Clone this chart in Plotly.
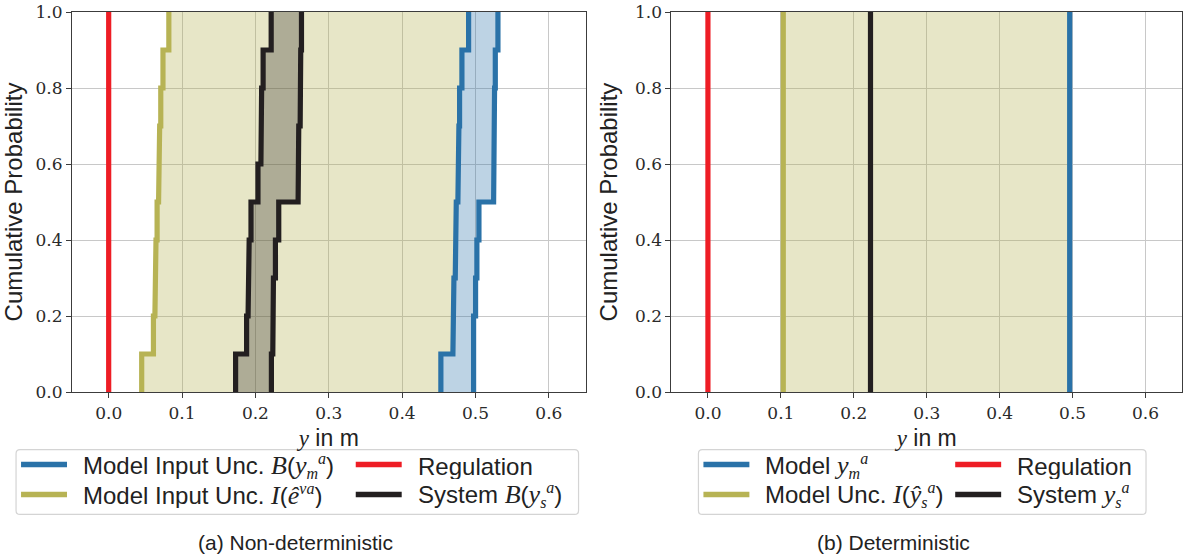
import numpy as np
import plotly.graph_objects as go

# ---------------- data ----------------
levels = [0.0, 0.1, 0.2, 0.3, 0.4, 0.5, 0.6, 0.7, 0.8, 0.9, 1.0]

# (a) non-deterministic: step CDF bounds (value on each probability interval)
olive_lo = [0.045, 0.061, 0.063, 0.0645, 0.066, 0.068, 0.0695, 0.071, 0.074, 0.082]
black_lo = [0.173, 0.188, 0.190, 0.1915, 0.194, 0.2035, 0.2075, 0.2085, 0.2105, 0.2215]
black_hi = [0.2218, 0.2237, 0.2246, 0.2273, 0.2318, 0.2582, 0.2591, 0.261, 0.2618, 0.2628]
blue_lo = [0.4528, 0.4692, 0.4706, 0.4724, 0.4738, 0.476, 0.4774, 0.4783, 0.4815, 0.4906]
blue_hi = [0.4974, 0.4974, 0.5001, 0.5019, 0.5047, 0.5247, 0.5256, 0.526, 0.527, 0.5306]
regulation = 0.0

# (b) deterministic
det_model = 0.496
det_unc_lo = 0.1033
det_system = 0.2229

x_ticks = [0.0, 0.1, 0.2, 0.3, 0.4, 0.5, 0.6]
y_ticks = [0.0, 0.2, 0.4, 0.6, 0.8, 1.0]

# ---------------- styles ----------------
C_BLUE = "#2a72a8"
C_OLIVE = "#b7b354"
C_RED = "#ee1d25"
C_BLACK = "#231f20"
F_OLIVE = "rgba(181,177,82,0.32)"
F_BLACK = "rgba(35,31,32,0.29)"
F_BLUE = "rgba(42,114,168,0.31)"
LW = 5.2
SANS = "Liberation Sans, Arial, sans-serif"
SERIF = "DejaVu Serif, serif"
MATH = "Liberation Serif, serif"
TXT = "#222222"


def m(s, size=None):
    sz = f";font-size:{size}px" if size else ""
    return f"<span style='font-family:{MATH};font-style:italic{sz}'>{s}</span>"


def step(vals):
    xs = list(np.repeat(vals, 2))
    ys = list(np.repeat(levels, 2)[1:-1])
    return xs, ys


def band(lo, hi):
    xl, yl = step(lo)
    xh, yh = step(hi)
    return xl + xh[::-1], yl + yh[::-1]


fig = go.Figure()

# ---- fills (a)
for lo, hi, fc in [(olive_lo, blue_lo, F_OLIVE), (black_lo, black_hi, F_BLACK), (blue_lo, blue_hi, F_BLUE)]:
    bx, by = band(lo, hi)
    fig.add_trace(go.Scatter(x=bx, y=by, fill="toself", fillcolor=fc, mode="lines",
                             line=dict(width=0), showlegend=False, hoverinfo="skip",
                             xaxis="x", yaxis="y"))

# ---- lines (a)
def add_step(vals, color):
    xs, ys = step(vals)
    fig.add_trace(go.Scatter(x=xs, y=ys, mode="lines", line=dict(color=color, width=LW),
                             showlegend=False, xaxis="x", yaxis="y"))

add_step(blue_lo, C_BLUE)
add_step(blue_hi, C_BLUE)
add_step(olive_lo, C_OLIVE)
fig.add_trace(go.Scatter(x=[regulation, regulation], y=[levels[0], levels[-1]], mode="lines",
                         line=dict(color=C_RED, width=LW), showlegend=False, xaxis="x", yaxis="y"))
add_step(black_lo, C_BLACK)
add_step(black_hi, C_BLACK)

# ---- (b)
fig.add_trace(go.Scatter(x=[det_unc_lo, det_model, det_model, det_unc_lo],
                         y=[levels[0], levels[0], levels[-1], levels[-1]],
                         fill="toself", fillcolor=F_OLIVE, mode="lines", line=dict(width=0),
                         showlegend=False, hoverinfo="skip", xaxis="x2", yaxis="y2"))

for xv, col in [(det_model, C_BLUE), (det_unc_lo, C_OLIVE), (regulation, C_RED), (det_system, C_BLACK)]:
    fig.add_trace(go.Scatter(x=[xv, xv], y=[levels[0], levels[-1]], mode="lines",
                             line=dict(color=col, width=LW), showlegend=False,
                             xaxis="x2", yaxis="y2"))

# ---------------- layout ----------------
W, H = 1185, 560
ML, MR, MT, MB = 72, 2, 10, 168
PW = W - ML - MR
PH = H - MT - MB


def px_x(p):
    return (p - ML) / PW


def px_y(p):
    return (H - MB - p) / PH


axis_common = dict(
    showline=True, linecolor="#3c3c3c", linewidth=1.2, mirror=True,
    ticks="outside", ticklen=5, tickcolor="#3c3c3c", tickwidth=1,
    showgrid=True, gridcolor="#c8c8c8", gridwidth=1.2, zeroline=False,
    tickfont=dict(family=SERIF, size=17, color="#2a2a2a"),
    ticklabeloverflow="allow",
)

xt = "<span style='font-family:" + MATH + ";font-style:italic'>y</span> in m"
xa = dict(axis_common, range=[-0.05, 0.65], tickvals=x_ticks, ticktext=[f"{v:.1f}" for v in x_ticks],
          title=dict(text=xt, font=dict(family=SANS, size=23, color=TXT), standoff=8))
ya = dict(axis_common, range=[0, 1], tickvals=y_ticks, ticktext=[f"{v:.1f}" for v in y_ticks],
          title=dict(text="Cumulative Probability", font=dict(family=SANS, size=24, color=TXT), standoff=10))

# ---------------- manual legends ----------------
MS = 26  # math font size in legend
SS = 16  # sub/sup size


def sub(s):
    return "<sub>" + m(s, SS) + "</sub>"


def sup(s):
    return "<sup>" + m(s, SS) + "</sup>"


legend_a = [
    ("Model Input Unc. " + m("B", MS) + "(" + m("y", MS) + sub("m") + sup("a") + ")", C_BLUE, 0, 0),
    ("Model Input Unc. " + m("I", MS) + "(" + m("ê", MS) + sup("va") + ")", C_OLIVE, 0, 1),
    ("Regulation", C_RED, 1, 0),
    ("System " + m("B", MS) + "(" + m("y", MS) + sub("s") + sup("a") + ")", C_BLACK, 1, 1),
]
legend_b = [
    ("Model " + m("y", MS) + sub("m") + sup("a"), C_BLUE, 0, 0),
    ("Model Unc. " + m("I", MS) + "(" + m("ŷ", MS) + sub("s") + sup("a") + ")", C_OLIVE, 0, 1),
    ("Regulation", C_RED, 1, 0),
    ("System " + m("y", MS) + sub("s") + sup("a"), C_BLACK, 1, 1),
]

# layout geometry (pixels): box [x0, x1], column line starts
legend_geoms = [
    (legend_a, 16, 579, [21, 356]),
    (legend_b, 699, 1147, [704, 956]),
]
BOX_Y0, BOX_Y1 = 450, 515
ROW_Y = [465, 495]
LINE_LEN = 46
TEXT_GAP = 14

shapes = []
annotations = []


def rounded_box(x0, x1, y0, y1, r=4):
    X0, X1 = px_x(x0), px_x(x1)
    Ytop, Ybot = px_y(y0), px_y(y1)
    rx, ry = r / PW, r / PH
    return (f"M {X0+rx},{Ytop} L {X1-rx},{Ytop} Q {X1},{Ytop} {X1},{Ytop-ry} "
            f"L {X1},{Ybot+ry} Q {X1},{Ybot} {X1-rx},{Ybot} L {X0+rx},{Ybot} "
            f"Q {X0},{Ybot} {X0},{Ybot+ry} L {X0},{Ytop-ry} Q {X0},{Ytop} {X0+rx},{Ytop} Z")


for entries, bx0, bx1, cols in legend_geoms:
    shapes.append(dict(type="path", xref="paper", yref="paper", path=rounded_box(bx0, bx1, BOX_Y0, BOX_Y1),
                       line=dict(color="#d4d4d4", width=1.2), fillcolor="white", layer="above"))
    for label, col, ci, ri in entries:
        lx = cols[ci]
        ly = ROW_Y[ri]
        shapes.append(dict(type="line", xref="paper", yref="paper",
                           x0=px_x(lx), x1=px_x(lx + LINE_LEN), y0=px_y(ly), y1=px_y(ly),
                           line=dict(color=col, width=5.5), layer="above"))
        annotations.append(dict(text=label, x=px_x(lx + LINE_LEN + TEXT_GAP), y=px_y(ly + 1),
                                xref="paper", yref="paper", showarrow=False,
                                xanchor="left", yanchor="middle", height=26,
                                font=dict(family=SANS, size=24, color=TXT)))

annotations += [
    dict(text="(a) Non-deterministic", x=px_x(296), y=px_y(543), xref="paper", yref="paper",
         showarrow=False, font=dict(family=SANS, size=21, color=TXT), xanchor="center", yanchor="middle"),
    dict(text="(b) Deterministic", x=px_x(894), y=px_y(543), xref="paper", yref="paper",
         showarrow=False, font=dict(family=SANS, size=21, color=TXT), xanchor="center", yanchor="middle"),
]

fig.update_layout(
    width=W, height=H, autosize=False,
    margin=dict(l=ML, r=MR, t=MT, b=MB),
    paper_bgcolor="white", plot_bgcolor="white",
    showlegend=False,
    xaxis=dict(xa, domain=[0, px_x(586)], anchor="y"),
    yaxis=dict(ya, domain=[0, 1], anchor="x"),
    xaxis2=dict(xa, domain=[px_x(672), 1], anchor="y2"),
    yaxis2=dict(ya, domain=[0, 1], anchor="x2"),
    shapes=shapes,
    annotations=annotations,
)

fig.write_html("out.html")
